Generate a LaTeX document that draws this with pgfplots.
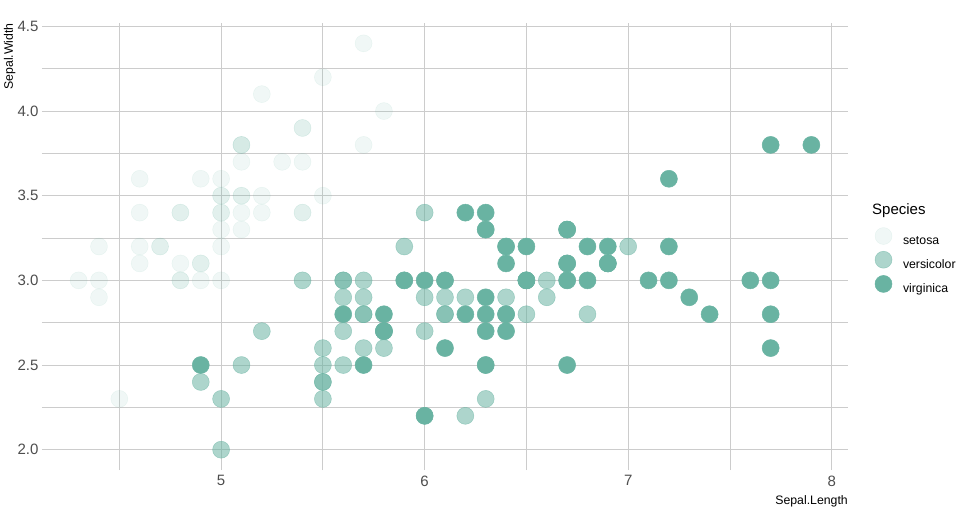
\documentclass[border=0pt]{standalone}
\usepackage{pgfplots}
\pgfplotsset{compat=1.18}
\usepackage{fontspec}
\setmainfont{Liberation Sans}
\definecolor{pt}{HTML}{69B3A2}
\definecolor{gridc}{HTML}{CCCCCC}
\definecolor{tickc}{HTML}{4D4D4D}
\pgfplotsset{
  pts/.style={only marks, mark=*, mark size=8.5pt,
    mark options={fill=pt, draw=pt, line width=0.5pt, fill opacity=#1, draw opacity=#1},
    legend image code/.code={\draw[##1] plot coordinates {(0pt,5pt)};}},
}
\begin{document}
\begin{tikzpicture}
\path[use as bounding box] (-42pt,-42pt) rectangle (926pt,470pt);
\begin{axis}[
  at={(0pt,0pt)}, anchor=south west,
  scale only axis, width=806pt, height=447pt,
  xmin=4.12, xmax=8.08, ymin=1.88, ymax=4.52,
  clip=false,
  xtick={5,6,7,8}, minor xtick={4.5,5.5,6.5,7.5},
  ytick={2,2.5,3,3.5,4,4.5}, minor ytick={2.25,2.75,3.25,3.75,4.25},
  grid=both,
  major grid style={gridc, line width=0.8pt},
  minor grid style={gridc, line width=0.8pt},
  axis line style={draw=none}, major tick length=0pt, minor tick length=0pt,
  /pgf/number format/assume math mode=true,
  ticklabel style={font=\fontsize{15}{18}\selectfont, text=tickc},
  xticklabel style={yshift=-2pt},
  yticklabel style={/pgf/number format/fixed, /pgf/number format/fixed zerofill, /pgf/number format/precision=1},
  legend style={at={(rel axis cs:1.0335,0.5425)}, anchor=north west, draw=none, fill=none,
    inner sep=0pt, outer sep=0pt, row sep=5.5pt, column sep=11pt,
    nodes={inner sep=0pt}, font=\fontsize{12.3}{14}\selectfont},
  legend cell align=left,
]
% setosa
\addplot[pts=0.1] coordinates {
(5.1,3.5) (4.9,3.0) (4.7,3.2) (4.6,3.1) (5.0,3.6) (5.4,3.9) (4.6,3.4) (5.0,3.4) (4.4,2.9) (4.9,3.1)
(5.4,3.7) (4.8,3.4) (4.8,3.0) (4.3,3.0) (5.8,4.0) (5.7,4.4) (5.4,3.9) (5.1,3.5) (5.7,3.8) (5.1,3.8)
(5.4,3.4) (5.1,3.7) (4.6,3.6) (5.1,3.3) (4.8,3.4) (5.0,3.0) (5.0,3.4) (5.2,3.5) (5.2,3.4) (4.7,3.2)
(4.8,3.1) (5.4,3.4) (5.2,4.1) (5.5,4.2) (4.9,3.1) (5.0,3.2) (5.5,3.5) (4.9,3.6) (4.4,3.0) (5.1,3.4)
(5.0,3.5) (4.5,2.3) (4.4,3.2) (5.0,3.5) (5.1,3.8) (4.8,3.0) (5.1,3.8) (4.6,3.2) (5.3,3.7) (5.0,3.3)
};
\addlegendentry{setosa}
% versicolor
\addplot[pts=0.55] coordinates {
(7.0,3.2) (6.4,3.2) (6.9,3.1) (5.5,2.3) (6.5,2.8) (5.7,2.8) (6.3,3.3) (4.9,2.4) (6.6,2.9) (5.2,2.7)
(5.0,2.0) (5.9,3.0) (6.0,2.2) (6.1,2.9) (5.6,2.9) (6.7,3.1) (5.6,3.0) (5.8,2.7) (6.2,2.2) (5.6,2.5)
(5.9,3.2) (6.1,2.8) (6.3,2.5) (6.1,2.8) (6.4,2.9) (6.6,3.0) (6.8,2.8) (6.7,3.0) (6.0,2.9) (5.7,2.6)
(5.5,2.4) (5.5,2.4) (5.8,2.7) (6.0,2.7) (5.4,3.0) (6.0,3.4) (6.7,3.1) (6.3,2.3) (5.6,3.0) (5.5,2.5)
(5.5,2.6) (6.1,3.0) (5.8,2.6) (5.0,2.3) (5.6,2.7) (5.7,3.0) (5.7,2.9) (6.2,2.9) (5.1,2.5) (5.7,2.8)
};
\addlegendentry{versicolor}
% virginica
\addplot[pts=1] coordinates {
(6.3,3.3) (5.8,2.7) (7.1,3.0) (6.3,2.9) (6.5,3.0) (7.6,3.0) (4.9,2.5) (7.3,2.9) (6.7,2.5) (7.2,3.6)
(6.5,3.2) (6.4,2.7) (6.8,3.0) (5.7,2.5) (5.8,2.8) (6.4,3.2) (6.5,3.0) (7.7,3.8) (7.7,2.6) (6.0,2.2)
(6.9,3.2) (5.6,2.8) (7.7,2.8) (6.3,2.7) (6.7,3.3) (7.2,3.2) (6.2,2.8) (6.1,3.0) (6.4,2.8) (7.2,3.0)
(7.4,2.8) (7.9,3.8) (6.4,2.8) (6.3,2.8) (6.1,2.6) (7.7,3.0) (6.3,3.4) (6.4,3.1) (6.0,3.0) (6.9,3.1)
(6.7,3.1) (6.9,3.1) (5.8,2.7) (6.8,3.2) (6.7,3.3) (6.7,3.0) (6.3,2.5) (6.5,3.0) (6.2,3.4) (5.9,3.0)
};
\addlegendentry{virginica}
\node[anchor=base east, inner sep=0pt, font=\fontsize{12.3}{14}\selectfont] at ([yshift=-34pt]rel axis cs:1,0) {Sepal.Length};
\node[rotate=90, anchor=base east, inner sep=0pt, font=\fontsize{12.3}{14}\selectfont] at ([xshift=-29pt]rel axis cs:0,1) {Sepal.Width};
\node[anchor=base west, inner sep=0pt, font=\fontsize{15}{18}\selectfont] at (rel axis cs:1.0298,0.5705) {Species};
\end{axis}
\end{tikzpicture}
\end{document}
